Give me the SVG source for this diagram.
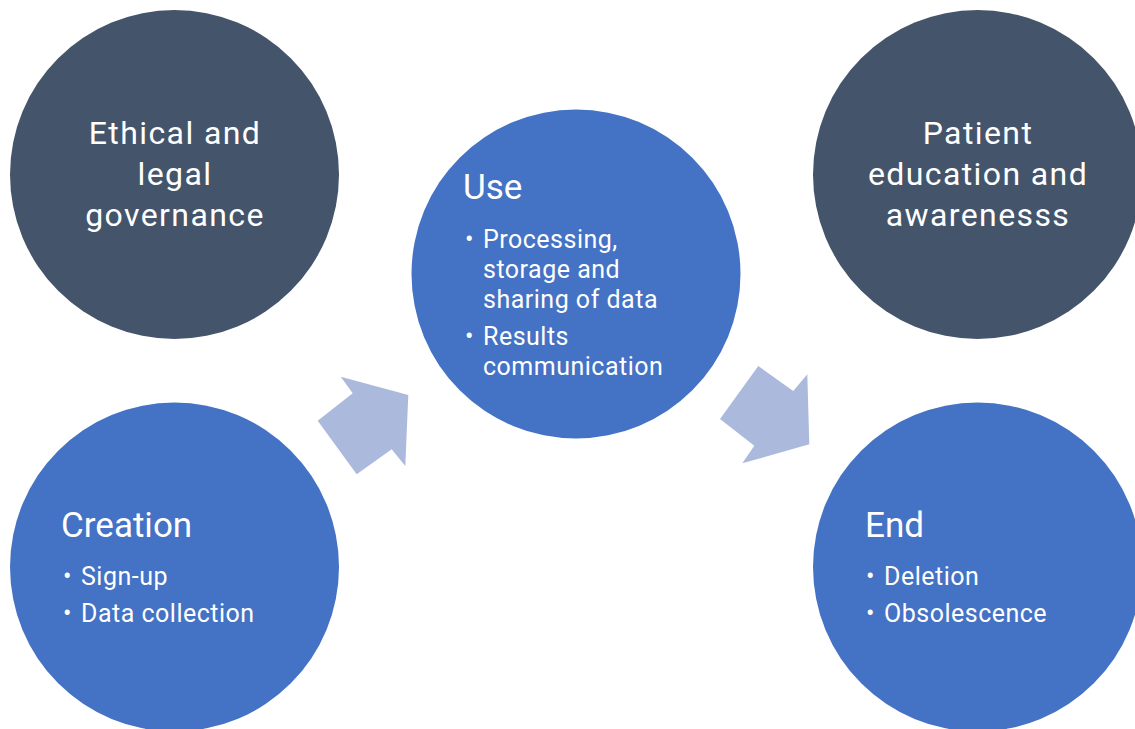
<svg xmlns="http://www.w3.org/2000/svg" width="1135" height="729" viewBox="0 0 1135 729">
<style>
.dark{fill:#44546A}
.blue{fill:#4472C4}
.arrow{fill:#ABB9DD}
text{font-family:Roboto,"Liberation Sans",sans-serif;fill:#FFFFFF}
.big{font-size:32px;letter-spacing:1.4px;text-anchor:middle}
.head{font-size:35px}
.item{font-size:25px;letter-spacing:0.5px}
</style>
<rect width="1135" height="729" fill="#FFFFFF"/>
<g id="connectors">
<polygon class="arrow" points="340.7,376.7 408.3,395 405.3,466 391.7,449.3 356.7,474.3 317.7,420.7 352.7,393.3"/>
<polygon class="arrow" points="758.3,366 793.3,391 807.3,374.3 809.3,444.3 742.3,463.3 754.3,445.7 720,419"/>
</g>
<g id="ethical">
<circle class="dark" cx="174.5" cy="174.5" r="164.5"/>
<text class="big" x="175" y="144">Ethical and</text>
<text class="big" x="175" y="185">legal</text>
<text class="big" x="175" y="226">governance</text>
</g>
<g id="patient">
<circle class="dark" cx="977.5" cy="174.5" r="164.5"/>
<text class="big" x="978" y="144">Patient</text>
<text class="big" x="978" y="185">education and</text>
<text class="big" x="978" y="226">awarenesss</text>
</g>
<g id="use">
<circle class="blue" cx="576" cy="274" r="164.5"/>
<text class="head" x="463" y="199">Use</text>
<text class="item" x="465" y="248">•</text>
<text class="item" x="483" y="248">Processing,</text>
<text class="item" x="483" y="278">storage and</text>
<text class="item" x="483" y="308">sharing of data</text>
<text class="item" x="465" y="345">•</text>
<text class="item" x="483" y="345">Results</text>
<text class="item" x="483" y="375">communication</text>
</g>
<g id="creation">
<circle class="blue" cx="174.5" cy="567" r="164.5"/>
<text class="head" x="61" y="537">Creation</text>
<text class="item" x="63" y="585">•</text>
<text class="item" x="81" y="585">Sign-up</text>
<text class="item" x="63" y="622">•</text>
<text class="item" x="81" y="622">Data collection</text>
</g>
<g id="end">
<circle class="blue" cx="977.5" cy="567" r="164.5"/>
<text class="head" x="865" y="537">End</text>
<text class="item" x="866" y="585">•</text>
<text class="item" x="884" y="585">Deletion</text>
<text class="item" x="866" y="622">•</text>
<text class="item" x="884" y="622">Obsolescence</text>
</g>
</svg>
